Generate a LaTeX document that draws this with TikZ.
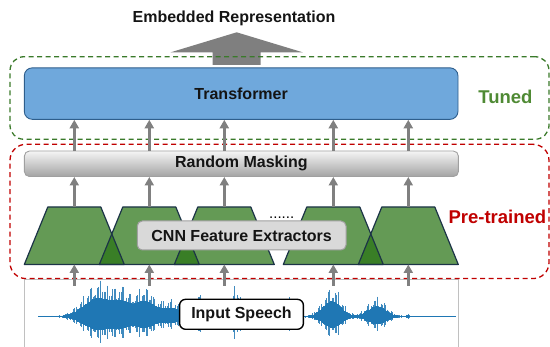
\documentclass[tikz,border=0pt]{standalone}
\usepackage{fontspec}
\setmainfont{Liberation Sans}
\usetikzlibrary{arrows.meta}

\definecolor{tfblue}{HTML}{6FA8DC}
\definecolor{tfedge}{HTML}{2E5E8C}
\definecolor{cnngreen}{RGB}{40,115,20}
\definecolor{cnnedge}{HTML}{1C3447}
\definecolor{flowgray}{HTML}{808080}
\definecolor{biggray}{HTML}{7F7F7F}
\definecolor{framegreen}{HTML}{3A7A2A}
\definecolor{tunedgreen}{HTML}{4F8A34}
\definecolor{framered}{HTML}{C00000}
\definecolor{boxgray}{HTML}{D9D9D9}
\definecolor{boxedge}{HTML}{A0A0A0}
\definecolor{waveblue}{HTML}{1F77B4}
\definecolor{waveframe}{HTML}{C0C0C0}

\begin{document}
\begin{tikzpicture}[x=1pt,y=-1pt,
  declare function={bump(\p,\c,\w)=exp(-1*pow(min(abs((\p-\c)/\w),3.5),2));},
  lbl/.style={font=\fontsize{16}{19}\selectfont\bfseries, text=black!92},
  sidelbl/.style={font=\fontsize{18.5}{21}\selectfont\bfseries},
  flow/.style={draw=flowgray, line width=2.6pt, -{Triangle[width=9pt,length=8.5pt]}},
  frame/.style={dashed, dash pattern=on 5pt off 3.5pt, line width=1.3pt,
                rounded corners=14pt, inner sep=0pt},
  cnnfill/.style={fill=cnngreen, fill opacity=0.72},
  cnnborder/.style={draw=cnnedge, line width=1.2pt, line join=round},
  wave/.style={draw=waveblue!85, line width=0.9pt},
  wavecore/.style={draw=waveblue, line width=1.3pt}
]
\useasboundingbox (0,0) rectangle (550,347);

% output arrow above the transformer
\fill[biggray] (212.7,65) -- (212.7,52.3) -- (170.7,52.3) -- (236.7,32.3)
  -- (302.7,52.3) -- (260.7,52.3) -- (260.7,65) -- cycle;

% tuned part
\node[frame, draw=framegreen, minimum width=539pt, minimum height=82.6pt] (tunedframe) at (279.5,98) {};
\node[lbl, draw=tfedge, fill=tfblue, line width=0.9pt, rounded corners=8pt,
      minimum width=433.7pt, minimum height=51.5pt] (tf) at (241.15,93.6) {Transformer};

% speech waveform in its frame
\draw[draw=waveframe, line width=0.9pt] (24.3,348) |- (458.3,279) -- (458.3,348);
\coordinate (wavetop) at (241.3,279);
\draw[waveblue!60, line width=0.7pt] (38.5,316.7) -- (456,316.7);
\foreach \x [count=\k] in {38.5,39.9,...,456} {
  \pgfmathsetmacro\env{0.7 + 36*bump(\x,98,20) + 22*bump(\x,122,12) + 30*bump(\x,145,14)
     + 16*bump(\x,172,14) + 29*bump(\x,199,4.5) + 34*bump(\x,236,6.5) + 23*bump(\x,288,3.5)
     + 30*bump(\x,332,13) + 20*bump(\x,377,13) + 2.5*bump(\x,408,2)}
  \pgfmathsetmacro\h{\env*(0.4+0.45*mod(\k*37,17)/16+0.15*mod(\k*11,7)/6)}
  \pgfmathsetmacro\c{0.5*\env}
  \draw[wave] (\x,316.7-\h) -- (\x,316.7+0.72*\h);
  \draw[wavecore] (\x,316.7-\c) -- (\x,316.7+0.72*\c);
}

% pre-trained part
\node[frame, draw=framered, rounded corners=16pt, minimum width=539pt, minimum height=134.3pt] (ptframe) at (279.5,211.45) {};
\node[lbl, draw=boxedge, line width=0.9pt, rounded corners=5pt,
      top color=white!96!black, middle color=black!13, bottom color=black!36,
      minimum width=434pt, minimum height=25.5pt] (mask) at (241.4,163.8) {Random Masking};

% CNN blocks: top and bottom centre of each trapezoid
\foreach \i/\x in {1/74.3,2/149.3,3/224.3,4/333.3,5/408.3} {
  \coordinate (tt\i) at (\x,207);
  \coordinate (tb\i) at (\x,264.5);
}
\foreach \i in {1,...,5}
  \fill[cnnfill] (tb\i) ++(-50,0) -- ++(23.5,-57.5) -- ++(53,0) -- ++(23.5,57.5) -- cycle;
\foreach \i in {1,...,5}
  \draw[cnnborder] (tb\i) ++(-50,0) -- ++(23.5,-57.5) -- ++(53,0) -- ++(23.5,57.5) -- cycle;

\node[lbl, draw=boxedge, fill=boxgray, line width=1pt, rounded corners=5pt,
      minimum width=208.7pt, minimum height=29pt] (cnn) at (241.65,235.5) {CNN Feature Extractors};
\node[font=\fontsize{15}{18}\selectfont, anchor=base] (dots) at (281.7,218.5) {......};

% connectors
\foreach \i in {1,...,5} {
  \draw[flow] ([yshift=-7pt]tb\i |- wavetop) -- (tb\i);
  \draw[flow] (tt\i) -- (tt\i |- mask.south);
  \draw[flow] (tt\i |- mask.north) -- (tt\i |- tf.south);
}

\node[lbl, draw=black, fill=white, line width=1.4pt, rounded corners=6pt,
      minimum width=123.8pt, minimum height=30pt] (inp) at (241.5,314.3) {Input Speech};

% labels
\node[lbl, anchor=base] (emb) at (234,22.7) {Embedded Representation};
\node[sidelbl, text=tunedgreen, anchor=base east] (tuned) at (536,103.3) {Tuned};
\node[sidelbl, text=framered, anchor=base west] (pretrained) at (445,223.3) {Pre-trained};
\end{tikzpicture}
\end{document}
